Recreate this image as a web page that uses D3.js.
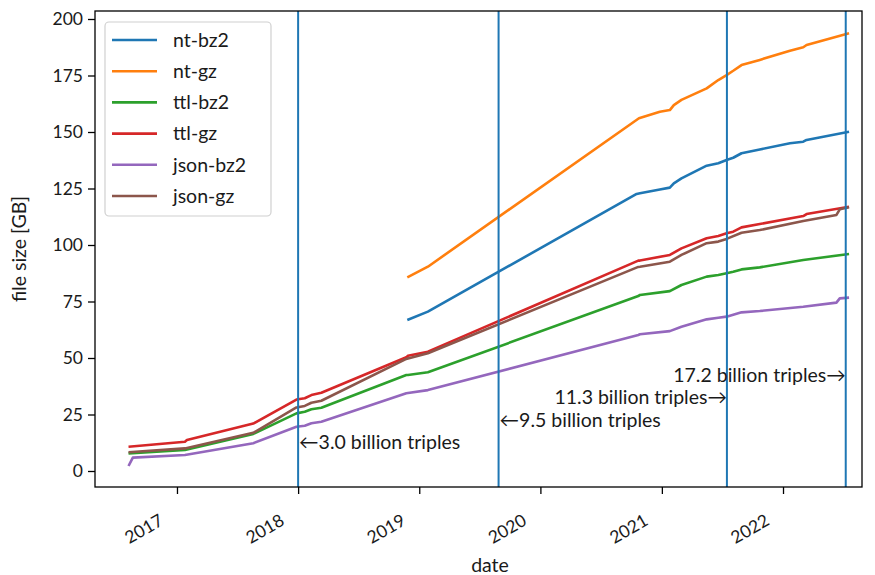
<!DOCTYPE html>
<html><head><meta charset="utf-8">
<script src="https://cdn.jsdelivr.net/npm/d3@7/dist/d3.min.js"></script>
<style>
body{margin:0;background:#fff;}
text{font-family:Lato,"Open Sans",sans-serif;fill:#1a1a1a;}
</style></head>
<body><svg id="c" width="875" height="575"></svg>
<script>
const seriesNames = ["nt-bz2","nt-gz","ttl-bz2","ttl-gz","json-bz2","json-gz"];
const seriesColors = ["#1f77b4","#ff7f0e","#2ca02c","#d62728","#9467bd","#8c564b"];

const ntBz2Dates = ["2018-11-26","2019-01-27","2020-10-17","2020-10-27","2020-12-26","2021-01-25","2021-02-06","2021-03-01","2021-05-16","2021-06-20","2021-07-15","2021-08-04","2021-08-29","2021-10-23","2022-01-22","2022-03-03","2022-03-13","2022-07-19"];
const ntBz2Values = [66.8,70.5,122.6,122.9,124.6,125.4,127.3,129.5,135.1,136.2,137.6,138.6,140.6,142.3,145.0,145.7,146.5,150.1];

const ntGzDates = ["2018-11-26","2019-01-27","2020-10-24","2020-12-26","2021-01-25","2021-02-06","2021-03-01","2021-05-16","2021-06-20","2021-07-15","2021-08-04","2021-08-29","2021-10-23","2022-01-22","2022-03-03","2022-03-13","2022-07-19"];
const ntGzValues = [85.7,90.4,156.1,159.0,159.7,161.9,164.2,169.3,173.0,175.2,177.1,179.6,181.9,186.0,187.5,188.5,193.7];

const ttlBz2Dates = ["2016-08-08","2017-01-25","2017-08-19","2017-12-27","2018-01-21","2018-02-10","2018-03-12","2018-11-23","2018-11-28","2019-01-27","2020-10-22","2020-10-27","2021-01-25","2021-03-01","2021-05-16","2021-06-20","2021-07-15","2021-08-04","2021-08-29","2021-10-23","2022-03-03","2022-07-19"];
const ttlBz2Values = [7.8,9.3,16.4,25.5,26.2,27.3,28.0,42.5,42.5,43.7,77.4,77.9,79.6,82.3,86.0,86.7,87.5,88.2,89.2,90.1,93.4,96.0];

const ttlGzDates = ["2016-08-08","2017-01-25","2017-01-31","2017-08-19","2017-12-27","2018-01-21","2018-02-10","2018-03-12","2018-11-23","2018-11-28","2019-01-27","2020-10-22","2020-10-27","2021-01-25","2021-03-01","2021-05-16","2021-06-20","2021-07-15","2021-08-04","2021-08-29","2021-10-23","2022-03-03","2022-03-13","2022-07-19"];
const ttlGzValues = [10.75,12.96,13.7,21.0,31.6,32.2,33.6,34.6,50.3,51.0,52.8,93.1,93.1,95.6,98.5,103.0,104.0,105.2,105.9,107.8,109.3,112.8,113.7,116.9];

const jsonBz2Dates = ["2016-08-08","2016-08-21","2017-01-25","2017-08-19","2017-12-27","2018-01-21","2018-02-10","2018-03-12","2018-11-23","2019-01-27","2020-10-22","2020-10-27","2021-01-25","2021-03-01","2021-05-16","2021-06-20","2021-07-15","2021-08-29","2021-10-23","2022-03-03","2022-06-11","2022-06-21","2022-07-19"];
const jsonBz2Values = [2.2,5.9,7.1,12.3,19.6,20.0,21.1,21.8,34.4,35.8,60.2,60.5,61.9,63.8,67.1,67.8,68.3,70.2,70.8,72.7,74.5,76.4,76.7];

const jsonGzDates = ["2016-08-08","2017-01-25","2017-08-19","2017-12-27","2018-01-21","2018-02-10","2018-03-12","2018-11-23","2018-11-28","2019-01-27","2020-10-22","2020-10-27","2021-01-25","2021-03-01","2021-05-16","2021-06-20","2021-07-15","2021-08-29","2021-10-23","2022-03-03","2022-06-11","2022-06-21","2022-07-19"];
const jsonGzValues = [8.3,10.0,16.9,28.1,28.8,30.2,31.1,49.6,49.8,52.1,90.3,90.4,92.6,95.6,100.8,101.5,102.7,105.4,106.6,110.6,113.3,115.8,116.7];

const markerDates = ["2018-01-01","2019-08-28","2021-07-16","2022-07-09"];
const markerLabels = ["\u21903.0 billion triples","\u21909.5 billion triples","11.3 billion triples\u2192","17.2 billion triples\u2192"];
const markerSides = ["right","right","left","left"];
const markerLevels = [12.9,22.4,32.8,42.4];

const yTicks = [0,25,50,75,100,125,150,175,200];
const xTickYears = [2017,2018,2019,2020,2021,2022];

const parse = d3.timeParse("%Y-%m-%d");
const allDates = [ntBz2Dates,ntGzDates,ttlBz2Dates,ttlGzDates,jsonBz2Dates,jsonGzDates];
const allValues = [ntBz2Values,ntGzValues,ttlBz2Values,ttlGzValues,jsonBz2Values,jsonGzValues];

const L=95,R=862,T=11,B=487;
const FS=19.5;
const svg=d3.select("#c");
const x=d3.scaleTime().domain([parse("2016-04-29"),parse("2022-08-27")]).range([L,R]);
const y=d3.scaleLinear().domain([-7.08,203.54]).range([B,T]);

const line=d3.line().x(d=>x(d[0])).y(d=>y(d[1]));
seriesNames.forEach((n,i)=>{
  const pts=allDates[i].map((d,j)=>[parse(d),allValues[i][j]]);
  svg.append("path").attr("d",line(pts)).attr("fill","none")
    .attr("stroke",seriesColors[i]).attr("stroke-width",2.6).attr("stroke-linejoin","round");
});

markerDates.forEach((d,i)=>{
  const xx=x(parse(d));
  svg.append("line").attr("x1",xx).attr("x2",xx).attr("y1",T).attr("y2",B)
    .attr("stroke","#1f77b4").attr("stroke-width",2);
  svg.append("text").attr("x",markerSides[i]==="right"?xx+1:xx)
    .attr("y",y(markerLevels[i])).attr("dy","0.35em")
    .attr("text-anchor",markerSides[i]==="right"?"start":"end")
    .attr("font-size",FS).text(markerLabels[i]);
});

// axes
const xa=svg.append("g").attr("transform",`translate(0,${B})`)
  .call(d3.axisBottom(x).tickValues(xTickYears.map(v=>new Date(v,0,1))).tickFormat(d3.timeFormat("%Y")).tickSize(7));
xa.select(".domain").remove();
xa.selectAll("line").attr("stroke","#000").attr("stroke-width",1.3);
xa.selectAll("text").attr("font-size",17.5).attr("text-anchor","end")
  .attr("transform","translate(-13,37) rotate(-30)").attr("y",0).attr("dy",0).attr("x",0);

const ya=svg.append("g").attr("transform",`translate(${L},0)`)
  .call(d3.axisLeft(y).tickValues(yTicks).tickSize(7).tickPadding(5));
ya.select(".domain").remove();
ya.selectAll("line").attr("stroke","#000").attr("stroke-width",1.3);
ya.selectAll("text").attr("font-size",17.5);

svg.append("rect").attr("x",L).attr("y",T).attr("width",R-L).attr("height",B-T)
  .attr("fill","none").attr("stroke","#000").attr("stroke-width",1.3);

svg.append("text").attr("x",490).attr("y",572).attr("text-anchor","middle").attr("font-size",FS).text("date");
svg.append("text").attr("transform","translate(26,249) rotate(-90)").attr("text-anchor","middle").attr("font-size",FS).text("file size [GB]");

// legend
const lg=svg.append("g");
lg.append("rect").attr("x",105).attr("y",22).attr("width",166).attr("height",194).attr("rx",4)
  .attr("fill","#fff").attr("fill-opacity",0.8).attr("stroke","#d0d0d0").attr("stroke-width",1.2);
seriesNames.forEach((n,i)=>{
  const yy=40+i*31.2;
  lg.append("line").attr("x1",112).attr("x2",157).attr("y1",yy).attr("y2",yy)
    .attr("stroke",seriesColors[i]).attr("stroke-width",2.6);
  lg.append("text").attr("x",173).attr("y",yy).attr("dy","0.35em").attr("font-size",FS).text(n);
});
</script></body></html>
